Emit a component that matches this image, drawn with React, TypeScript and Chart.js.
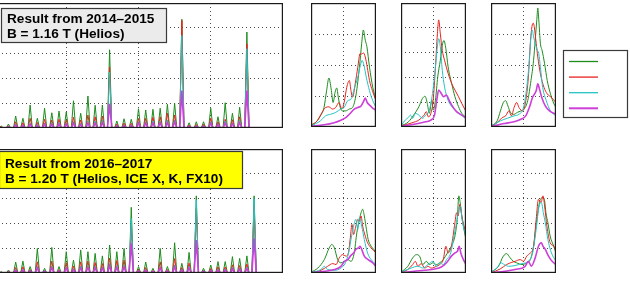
import React, { useEffect, useRef } from "react";
import { Chart, registerables } from "chart.js";

Chart.register(...registerables);

// Series styling: four measurement series
const SERIES_COLORS = ["#1e8c1e", "#e8231f", "#25c3c3", "#cc3fd8"];
const SERIES_WIDTHS = [1, 1, 1, 1.6];

// ---- Wide-range spectra: peak positions and heights ----
const peaks2014 = [0.1, 0.2, 0.3, 0.4, 0.5, 0.6, 0.7, 0.8, 0.9, 1.0, 1.1, 1.2, 1.3, 1.4, 1.5, 1.6, 1.7, 1.8, 1.9, 2.0, 2.1, 2.2, 2.3, 2.4, 2.5, 2.6, 2.7, 2.8, 2.9, 3.0, 3.1, 3.2, 3.3, 3.4, 3.5];
const green2014 = [0.08, 0.16, 0.48, 0.39, 0.92, 0.39, 0.79, 0.61, 0.68, 0.64, 1.09, 0.59, 1.28, 0.91, 0.92, 3.13, 0.28, 0.37, 0.35, 0.77, 0.72, 0.75, 0.79, 0.95, 0.99, 4.35, 0.21, 0.25, 0.25, 0.79, 0.45, 1.01, 0.59, 0.83, 3.84];
const red2014 = [0.05, 0.08, 0.25, 0.21, 0.39, 0.22, 0.35, 0.32, 0.35, 0.32, 0.43, 0.32, 0.52, 0.45, 0.48, 2.44, 0.16, 0.2, 0.19, 0.38, 0.39, 0.43, 0.45, 0.59, 0.52, 4.3, 0.12, 0.14, 0.15, 0.39, 0.25, 0.35, 0.33, 0.45, 3.37];
const cyan2014 = [0.03, 0.05, 0.16, 0.12, 0.21, 0.14, 0.19, 0.21, 0.21, 0.2, 0.25, 0.19, 0.29, 0.28, 0.32, 2.24, 0.1, 0.12, 0.12, 0.25, 0.25, 0.28, 0.28, 0.32, 0.32, 3.7, 0.08, 0.09, 0.1, 0.25, 0.16, 0.28, 0.2, 0.32, 3.17];
const magenta2014 = [0.02, 0.04, 0.12, 0.1, 0.15, 0.1, 0.15, 0.15, 0.16, 0.16, 0.19, 0.14, 0.19, 0.19, 0.21, 0.97, 0.07, 0.09, 0.09, 0.19, 0.19, 0.19, 0.21, 0.21, 0.24, 1.5, 0.06, 0.07, 0.08, 0.19, 0.14, 0.19, 0.17, 0.21, 1.5];

const peaks2016 = [0.1, 0.2, 0.3, 0.4, 0.5, 0.6, 0.7, 0.8, 0.9, 1.0, 1.1, 1.2, 1.3, 1.4, 1.5, 1.6, 1.7, 1.8, 1.9, 2.0, 2.1, 2.2, 2.3, 2.4, 2.5, 2.6, 2.7, 2.8, 2.9, 3.0, 3.1, 3.2, 3.3, 3.4, 3.5, 3.6];
const green2016 = [0.05, 0.12, 0.44, 0.48, 0.26, 0.99, 0.19, 1.03, 0.26, 0.86, 0.52, 0.93, 0.86, 0.79, 0.69, 1.13, 0.86, 0.99, 2.65, 0.26, 0.44, 0.19, 0.99, 0.26, 1.22, 0.39, 0.83, 3.11, 0.19, 0.32, 0.46, 0.46, 0.66, 0.59, 0.69, 3.11];
const red2016 = [0.03, 0.07, 0.22, 0.25, 0.14, 0.45, 0.1, 0.48, 0.14, 0.42, 0.28, 0.45, 0.48, 0.42, 0.38, 0.6, 0.5, 0.52, 1.9, 0.14, 0.22, 0.1, 0.45, 0.14, 0.58, 0.22, 0.4, 2.6, 0.1, 0.18, 0.25, 0.24, 0.33, 0.3, 0.36, 2.7];
const cyan2016 = [0.02, 0.04, 0.14, 0.15, 0.1, 0.26, 0.08, 0.28, 0.1, 0.25, 0.17, 0.28, 0.3, 0.26, 0.24, 0.38, 0.3, 0.33, 2.2, 0.1, 0.14, 0.08, 0.26, 0.1, 0.32, 0.15, 0.26, 2.95, 0.08, 0.12, 0.16, 0.16, 0.22, 0.2, 0.24, 3.0];
const magenta2016 = [0.02, 0.03, 0.1, 0.11, 0.08, 0.2, 0.06, 0.21, 0.08, 0.19, 0.13, 0.2, 0.22, 0.2, 0.19, 0.28, 0.22, 0.24, 1.2, 0.08, 0.11, 0.06, 0.2, 0.08, 0.24, 0.12, 0.2, 1.33, 0.06, 0.09, 0.12, 0.12, 0.16, 0.15, 0.18, 1.4];

// ---- Zoomed line shapes, [x, y] ----
// 2014-2015, line A
const a14Green = [[0, 0.07], [0.135, 0.14], [0.29, 0.36], [0.4, 0.63], [0.48, 1.17], [0.55, 1.58], [0.62, 1.23], [0.68, 0.79], [0.74, 1.12], [0.79, 1.26], [0.84, 0.96], [0.9, 0.63], [0.97, 0.52], [1.07, 0.52], [1.18, 0.58], [1.28, 0.63], [1.39, 1.07], [1.49, 1.93], [1.56, 2.7], [1.61, 3.13], [1.67, 2.8], [1.72, 2.59], [1.8, 1.93], [1.9, 1.28], [2.0, 0.85]];
const a14Red = [[0, 0.05], [0.19, 0.2], [0.34, 0.47], [0.45, 0.63], [0.55, 0.65], [0.66, 0.58], [0.76, 0.63], [0.86, 0.79], [0.95, 0.58], [1.02, 0.79], [1.1, 1.28], [1.18, 1.5], [1.23, 1.17], [1.28, 0.96], [1.36, 1.39], [1.44, 1.93], [1.51, 2.37], [1.56, 2.35], [1.61, 2.39], [1.67, 2.26], [1.73, 1.93], [1.8, 1.5], [1.89, 1.17], [2.0, 0.85]];
const a14Cyan = [[0, 0.03], [0.29, 0.2], [0.45, 0.36], [0.6, 0.41], [0.76, 0.47], [0.92, 0.58], [1.02, 0.63], [1.13, 0.85], [1.23, 0.9], [1.33, 1.23], [1.44, 1.61], [1.52, 1.99], [1.57, 2.15], [1.63, 1.99], [1.7, 1.61], [1.8, 1.17], [1.9, 0.85], [2.0, 0.63]];
const a14Magenta = [[0, 0.02], [0.4, 0.07], [0.71, 0.14], [0.92, 0.22], [1.07, 0.3], [1.18, 0.41], [1.33, 0.58], [1.44, 0.63], [1.54, 0.68], [1.63, 0.85], [1.67, 0.93], [1.73, 0.79], [1.83, 0.68], [1.94, 0.58], [1.99, 0.52], [2.0, 0.0]];
// 2014-2015, line B
const b14Green = [[0, 0.04], [0.23, 0.21], [0.39, 0.48], [0.55, 0.82], [0.66, 1.15], [0.74, 1.24], [0.81, 0.95], [0.87, 0.55], [0.95, 1.08], [0.99, 0.68], [1.06, 1.08], [1.13, 2.02], [1.21, 2.69], [1.27, 3.29], [1.32, 3.49], [1.38, 3.16], [1.45, 2.42], [1.56, 1.75], [1.66, 1.22], [1.77, 0.82], [1.87, 0.55], [2.0, 0.39]];
const b14Red = [[0, 0.04], [0.34, 0.17], [0.55, 0.28], [0.71, 0.48], [0.78, 0.62], [0.84, 0.41], [0.92, 0.55], [0.99, 1.08], [1.06, 2.42], [1.12, 3.76], [1.16, 4.32], [1.21, 3.76], [1.27, 3.09], [1.34, 2.69], [1.45, 2.16], [1.56, 1.75], [1.66, 1.49], [1.77, 1.22], [1.87, 0.95], [2.0, 0.62]];
const b14Cyan = [[0, 0.04], [0.13, 0.28], [0.23, 0.39], [0.29, 0.48], [0.36, 0.35], [0.44, 0.55], [0.55, 0.48], [0.66, 0.35], [0.76, 0.48], [0.87, 0.68], [0.97, 1.35], [1.06, 2.42], [1.13, 3.36], [1.16, 3.56], [1.21, 3.23], [1.27, 2.29], [1.34, 1.62], [1.45, 1.08], [1.61, 0.75], [1.77, 0.55], [2.0, 0.35]];
const b14Magenta = [[0, 0.03], [0.44, 0.12], [0.76, 0.21], [0.92, 0.28], [1.03, 0.48], [1.1, 1.08], [1.16, 1.49], [1.24, 1.35], [1.31, 1.22], [1.4, 1.29], [1.48, 1.08], [1.59, 0.82], [1.71, 0.62], [1.87, 0.48], [2.0, 0.35]];
// 2014-2015, line C
const c14Green = [[0, 0.04], [0.19, 0.2], [0.29, 0.52], [0.38, 0.79], [0.45, 0.85], [0.52, 0.68], [0.6, 0.47], [0.71, 0.41], [0.81, 0.47], [0.92, 0.52], [1.02, 0.58], [1.13, 0.85], [1.23, 1.5], [1.31, 2.15], [1.36, 2.8], [1.41, 3.46], [1.44, 3.84], [1.47, 3.46], [1.52, 2.7], [1.57, 2.48], [1.65, 2.04], [1.73, 1.5], [1.83, 1.07], [1.94, 0.74], [2.0, 0.63]];
const c14Red = [[0, 0.02], [0.19, 0.14], [0.34, 0.3], [0.45, 0.36], [0.55, 0.52], [0.63, 0.36], [0.71, 0.63], [0.79, 0.79], [0.86, 0.63], [0.97, 0.52], [1.07, 0.85], [1.15, 1.61], [1.21, 2.7], [1.26, 3.24], [1.3, 3.35], [1.33, 3.24], [1.39, 2.7], [1.44, 2.26], [1.52, 1.72], [1.63, 1.28], [1.73, 1.07], [1.85, 0.96], [2.0, 0.79]];
const c14Cyan = [[0, 0.01], [0.29, 0.2], [0.5, 0.28], [0.71, 0.36], [0.86, 0.41], [1.0, 0.63], [1.1, 1.28], [1.18, 2.15], [1.23, 2.91], [1.27, 3.13], [1.31, 2.91], [1.36, 2.7], [1.42, 2.48], [1.47, 2.37], [1.52, 1.93], [1.59, 1.28], [1.7, 0.85], [1.83, 0.52], [2.0, 0.36]];
const c14Magenta = [[0, 0.01], [0.4, 0.11], [0.71, 0.17], [0.92, 0.25], [1.07, 0.36], [1.18, 0.63], [1.28, 0.96], [1.39, 1.17], [1.44, 1.39], [1.49, 1.23], [1.56, 0.96], [1.67, 0.68], [1.8, 0.52], [2.0, 0.41]];
// 2016-2017, line A
const a16Green = [[0, 0.03], [0.21, 0.2], [0.41, 0.54], [0.56, 1.01], [0.64, 1.15], [0.72, 1.01], [0.82, 0.54], [0.92, 0.41], [1.03, 0.47], [1.13, 0.54], [1.23, 0.47], [1.33, 0.81], [1.41, 1.62], [1.49, 2.16], [1.54, 2.43], [1.59, 2.57], [1.64, 2.3], [1.69, 1.89], [1.76, 1.35], [1.85, 1.08], [1.93, 0.95], [2.0, 0.81]];
const a16Red = [[0, 0.01], [0.31, 0.11], [0.51, 0.27], [0.67, 0.38], [0.77, 0.34], [0.87, 0.61], [0.97, 0.74], [1.08, 0.68], [1.15, 0.81], [1.21, 1.42], [1.26, 1.96], [1.31, 1.55], [1.38, 1.89], [1.44, 2.16], [1.49, 2.09], [1.54, 2.3], [1.59, 1.89], [1.67, 1.49], [1.74, 1.22], [1.85, 1.01], [2.0, 0.81]];
const a16Cyan = [[0, 0.03], [0.31, 0.14], [0.41, 0.27], [0.51, 0.14], [0.72, 0.11], [0.92, 0.2], [1.08, 0.47], [1.18, 0.95], [1.23, 1.35], [1.31, 1.89], [1.38, 2.16], [1.44, 1.76], [1.49, 2.23], [1.56, 1.89], [1.64, 1.35], [1.74, 0.81], [1.85, 0.54], [2.0, 0.34]];
const a16Magenta = [[0, 0.01], [0.41, 0.07], [0.72, 0.14], [0.92, 0.27], [1.03, 0.47], [1.13, 0.54], [1.21, 0.68], [1.31, 0.81], [1.38, 0.95], [1.46, 1.01], [1.51, 1.08], [1.56, 0.95], [1.64, 0.68], [1.76, 0.54], [1.9, 0.41], [2.0, 0.27]];
// 2016-2017, line B
const b16Green = [[0, 0.03], [0.21, 0.27], [0.36, 0.61], [0.47, 0.74], [0.57, 0.68], [0.67, 0.34], [0.78, 0.47], [0.88, 0.34], [0.98, 0.41], [1.09, 0.34], [1.19, 0.41], [1.3, 0.54], [1.43, 0.81], [1.55, 1.08], [1.66, 1.49], [1.73, 2.16], [1.78, 3.11], [1.82, 2.84], [1.87, 2.3], [1.92, 1.89], [2.0, 1.35]];
const b16Red = [[0, 0.01], [0.21, 0.14], [0.36, 0.34], [0.44, 0.47], [0.52, 0.27], [0.62, 0.38], [0.73, 0.2], [0.83, 0.27], [0.93, 0.2], [1.09, 0.27], [1.19, 0.34], [1.3, 0.54], [1.38, 1.08], [1.45, 0.81], [1.55, 1.08], [1.66, 2.03], [1.71, 2.43], [1.76, 2.3], [1.81, 2.77], [1.87, 2.3], [1.94, 1.89], [2.0, 1.62]];
const b16Cyan = [[0, 0.03], [0.31, 0.2], [0.52, 0.27], [0.67, 0.2], [0.83, 0.34], [0.98, 0.47], [1.09, 0.27], [1.19, 0.41], [1.3, 0.34], [1.4, 0.54], [1.53, 0.81], [1.63, 1.49], [1.71, 2.03], [1.78, 2.57], [1.83, 2.7], [1.88, 2.16], [1.94, 1.76], [2.0, 1.49]];
const b16Magenta = [[0, 0.01], [0.41, 0.07], [0.73, 0.11], [1.04, 0.16], [1.24, 0.24], [1.4, 0.41], [1.55, 0.68], [1.66, 0.81], [1.74, 0.88], [1.79, 1.08], [1.84, 0.81], [1.92, 0.54], [2.0, 0.34]];
// 2016-2017, line C
const c16Green = [[0, 0.03], [0.23, 0.27], [0.38, 0.68], [0.48, 0.78], [0.59, 0.61], [0.69, 0.47], [0.79, 0.41], [0.95, 0.34], [1.1, 0.41], [1.21, 0.54], [1.31, 1.08], [1.41, 2.16], [1.52, 2.97], [1.59, 3.04], [1.65, 2.91], [1.69, 2.43], [1.75, 2.03], [1.82, 1.49], [1.93, 1.08], [2.0, 0.81]];
const c16Red = [[0, 0.01], [0.28, 0.16], [0.48, 0.34], [0.64, 0.43], [0.74, 0.47], [0.9, 0.54], [1.0, 0.47], [1.1, 0.68], [1.21, 0.81], [1.31, 1.08], [1.39, 2.16], [1.46, 2.97], [1.54, 2.84], [1.6, 3.11], [1.65, 2.7], [1.72, 1.89], [1.82, 1.22], [1.93, 1.08], [2.0, 0.88]];
const c16Cyan = [[0, 0.03], [0.18, 0.2], [0.31, 0.41], [0.41, 0.34], [0.54, 0.27], [0.74, 0.3], [0.95, 0.38], [1.15, 0.47], [1.28, 0.81], [1.39, 1.76], [1.48, 2.7], [1.55, 2.84], [1.61, 2.43], [1.67, 2.03], [1.75, 1.35], [1.86, 0.81], [2.0, 0.47]];
const c16Magenta = [[0, 0.01], [0.43, 0.07], [0.74, 0.14], [1.05, 0.27], [1.15, 0.47], [1.24, 0.27], [1.36, 0.61], [1.46, 1.08], [1.55, 1.22], [1.6, 1.08], [1.67, 0.95], [1.77, 0.68], [1.88, 0.47], [2.0, 0.34]];

const NOTE_2014 = "Result from 2014–2015\nB = 1.16 T (Helios)";
const NOTE_2016 = "Result from 2016–2017\nB = 1.20 T (Helios, ICE X, K, FX10)";

type Pt = { x: number; y: number };

// Narrow peaks on a zero baseline
function spikeLine(xs: number[], hs: number[], xMax: number): Pt[] {
  const pts: Pt[] = [{ x: 0, y: 0 }];
  xs.forEach((x, i) => {
    pts.push({ x: x - 0.03, y: 0 }, { x, y: hs[i] }, { x: x + 0.03, y: 0 });
  });
  pts.push({ x: xMax, y: 0 });
  return pts;
}

const toPts = (arr: number[][]): Pt[] => arr.map(([x, y]) => ({ x, y }));

function makeDatasets(series: Pt[][], smooth: boolean) {
  return series.map((data, i) => ({
    label: `S${i + 1}`,
    data,
    borderColor: SERIES_COLORS[i],
    backgroundColor: SERIES_COLORS[i],
    borderWidth: SERIES_WIDTHS[i],
    pointRadius: 0,
    fill: false,
    tension: 0,
    cubicInterpolationMode: smooth ? ("monotone" as const) : ("default" as const),
    order: 3 - i,
  }));
}

// Solid axes box around the plot area
const framePlugin = {
  id: "frame",
  afterDatasetsDraw(chart: any) {
    const { ctx, chartArea: a } = chart;
    ctx.save();
    ctx.strokeStyle = "#1a1a1a";
    ctx.lineWidth = 1.2;
    ctx.strokeRect(a.left + 0.6, a.top + 0.6, a.right - a.left - 1.2, a.bottom - a.top - 1.2);
    ctx.restore();
  },
};

// Boxed annotation text in the corner of the plot
const notePlugin = {
  id: "note",
  afterDraw(chart: any, _args: any, opts: any) {
    if (!opts || !opts.text) return;
    const ctx = chart.ctx;
    ctx.save();
    ctx.fillStyle = opts.fill;
    ctx.fillRect(opts.x, opts.y, opts.w, opts.h);
    ctx.strokeStyle = "#3a3a3a";
    ctx.lineWidth = 1.2;
    ctx.strokeRect(opts.x + 0.5, opts.y + 0.5, opts.w - 1, opts.h - 1);
    ctx.fillStyle = "#000";
    ctx.font = 'bold 13.6px "Liberation Sans", Arial, Helvetica, sans-serif';
    ctx.textBaseline = "alphabetic";
    String(opts.text)
      .split("\n")
      .forEach((line: string, i: number) => ctx.fillText(line, opts.textX, opts.baseline + i * opts.gap));
    ctx.restore();
  },
};

type PanelProps = {
  left: number;
  top: number;
  width: number;
  height: number;
  series: Pt[][];
  smooth: boolean;
  xMax: number;
  yMax: number;
  note?: any;
};

function Panel({ left, top, width, height, series, smooth, xMax, yMax, note }: PanelProps) {
  const ref = useRef<HTMLCanvasElement>(null);
  useEffect(() => {
    const axis = (max: number) => ({
      type: "linear" as const,
      min: 0,
      max,
      ticks: { display: false, stepSize: 1 },
      grid: { color: "#4a4a4a", lineWidth: 1, drawTicks: false },
      border: { display: false, dash: [1, 3] },
    });
    const chart = new Chart(ref.current as HTMLCanvasElement, {
      type: "line",
      data: { datasets: makeDatasets(series, smooth) as any },
      options: {
        animation: false,
        responsive: false,
        events: [],
        layout: { padding: 0 },
        scales: { x: axis(xMax), y: axis(yMax) },
        plugins: {
          legend: { display: false },
          tooltip: { enabled: false },
          note: note || {},
        } as any,
      },
      plugins: [framePlugin, notePlugin],
    });
    return () => chart.destroy();
  }, []);
  return (
    <canvas
      ref={ref}
      width={width}
      height={height}
      style={{ position: "absolute", left, top, width, height }}
    />
  );
}

// Key with one line sample per series
const keyPlugin = {
  id: "keyBox",
  afterDraw(chart: any) {
    const ctx = chart.ctx;
    ctx.save();
    ctx.fillStyle = "#fff";
    ctx.fillRect(3, 3, 65, 68);
    ctx.strokeStyle = "#3a3a3a";
    ctx.lineWidth = 1.2;
    ctx.strokeRect(3.5, 3.5, 64, 67);
    chart.data.datasets.forEach((ds: any, i: number) => {
      const y = 14.5 + i * 15.6;
      ctx.strokeStyle = ds.borderColor;
      ctx.lineWidth = i === 3 ? 2 : 1.3;
      ctx.beginPath();
      ctx.moveTo(9, y);
      ctx.lineTo(38, y);
      ctx.stroke();
    });
    ctx.restore();
  },
};

function Key({ left, top }: { left: number; top: number }) {
  const ref = useRef<HTMLCanvasElement>(null);
  useEffect(() => {
    const chart = new Chart(ref.current as HTMLCanvasElement, {
      type: "line",
      data: { datasets: makeDatasets([[], [], [], []], false) as any },
      options: {
        animation: false,
        responsive: false,
        events: [],
        scales: { x: { display: false }, y: { display: false } },
        plugins: { legend: { display: false }, tooltip: { enabled: false } },
      },
      plugins: [keyPlugin],
    });
    return () => chart.destroy();
  }, []);
  return <canvas ref={ref} width={72} height={76} style={{ position: "absolute", left, top, width: 72, height: 76 }} />;
}

export default function App() {
  const wide2014 = [
    spikeLine(peaks2014, green2014, 4),
    spikeLine(peaks2014, red2014, 4),
    spikeLine(peaks2014, cyan2014, 4),
    spikeLine(peaks2014, magenta2014, 4),
  ];
  const wide2016 = [
    spikeLine(peaks2016, green2016, 4),
    spikeLine(peaks2016, red2016, 4),
    spikeLine(peaks2016, cyan2016, 4),
    spikeLine(peaks2016, magenta2016, 4),
  ];
  const zoom2014 = [
    [a14Green, a14Red, a14Cyan, a14Magenta],
    [b14Green, b14Red, b14Cyan, b14Magenta],
    [c14Green, c14Red, c14Cyan, c14Magenta],
  ].map((g) => g.map(toPts));
  const zoom2016 = [
    [a16Green, a16Red, a16Cyan, a16Magenta],
    [b16Green, b16Red, b16Cyan, b16Magenta],
    [c16Green, c16Red, c16Cyan, c16Magenta],
  ].map((g) => g.map(toPts));
  const zoomLefts = [311, 401, 491];
  const zoomMax2014 = [4, 5, 4];

  return (
    <div
      style={{
        position: "fixed",
        left: 0,
        top: 0,
        width: 630,
        height: 282,
        background: "#fff",
        overflow: "hidden",
      }}
    >
      <Panel
        left={-6}
        top={3}
        width={289}
        height={125}
        series={wide2014}
        smooth={false}
        xMax={4}
        yMax={5}
        note={{ text: NOTE_2014, fill: "#ebebeb", x: 7, y: 5, w: 166, h: 35, textX: 13, baseline: 19.7, gap: 15.6 }}
      />
      <Panel
        left={-6}
        top={149}
        width={289}
        height={124}
        series={wide2016}
        smooth={false}
        xMax={4}
        yMax={5}
        note={{ text: NOTE_2016, fill: "#ffff00", x: 5, y: 2, w: 244, h: 38, textX: 11, baseline: 19, gap: 15.4 }}
      />
      {zoom2014.map((s, i) => (
        <Panel key={`t${i}`} left={zoomLefts[i]} top={3} width={65} height={124} series={s} smooth xMax={2} yMax={zoomMax2014[i]} />
      ))}
      {zoom2016.map((s, i) => (
        <Panel key={`b${i}`} left={zoomLefts[i]} top={149} width={65} height={124} series={s} smooth xMax={2} yMax={5} />
      ))}
      <Key left={560} top={47} />
    </div>
  );
}
